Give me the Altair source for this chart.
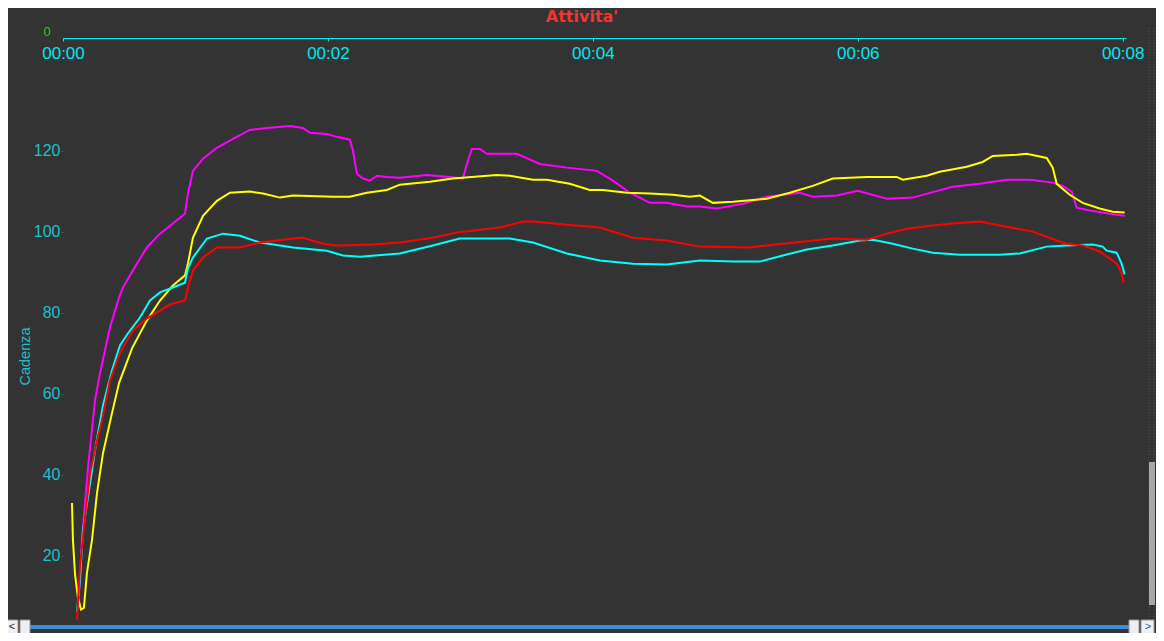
import altair as alt
import pandas as pd

# ---- data (minutes, cadence) ----
t_magenta = [0.12, 0.143, 0.189, 0.242, 0.279, 0.355, 0.423, 0.453, 0.558, 0.634, 0.732, 0.830, 0.921, 0.943, 0.981,
             1.057, 1.162, 1.283, 1.411, 1.540, 1.713, 1.811, 1.864, 1.992, 2.068, 2.166, 2.189, 2.219, 2.264, 2.317,
             2.370, 2.445, 2.543, 2.747, 2.974, 3.019, 3.049, 3.087, 3.147, 3.200, 3.426, 3.600, 3.804, 4.030, 4.151,
             4.279, 4.430, 4.558, 4.709, 4.808, 4.936, 5.132, 5.313, 5.562, 5.660, 5.842, 6.000, 6.219, 6.415, 6.717,
             6.921, 7.125, 7.298, 7.472, 7.547, 7.615, 7.653, 7.751, 7.902, 8.015]
v_magenta = [10, 23.9, 41.9, 58.4, 65.0, 76.4, 83.7, 86.2, 92.1, 96.1, 99.5, 102.0, 104.4, 109.4, 115.0,
             118.0, 120.7, 122.9, 125.1, 125.6, 126.1, 125.6, 124.4, 124.1, 123.4, 122.7, 120.0, 114.3, 113.1, 112.6,
             113.8, 113.5, 113.3, 114.0, 113.3, 113.1, 116.7, 120.4, 120.4, 119.2, 119.2, 116.7, 115.8, 115.0, 112.6,
             109.6, 107.1, 107.1, 106.2, 106.2, 105.7, 106.9, 108.6, 109.6, 108.6, 108.9, 110.1, 108.1, 108.4, 111.1,
             111.8, 112.8, 112.8, 112.1, 111.3, 109.9, 105.9, 105.2, 104.4, 103.9]

t_yellow = [0.068, 0.075, 0.091, 0.113, 0.136, 0.158, 0.181, 0.219, 0.257, 0.302, 0.370, 0.423, 0.521, 0.634, 0.732,
            0.830, 0.921, 0.943, 0.981, 1.057, 1.162, 1.260, 1.411, 1.509, 1.638, 1.736, 2.038, 2.166, 2.294, 2.445,
            2.543, 2.770, 2.943, 3.275, 3.374, 3.547, 3.653, 3.826, 3.977, 4.075, 4.257, 4.430, 4.604, 4.732, 4.808,
            4.906, 5.057, 5.313, 5.487, 5.660, 5.811, 6.068, 6.294, 6.340, 6.521, 6.619, 6.823, 6.943, 7.019, 7.200,
            7.275, 7.426, 7.472, 7.502, 7.600, 7.698, 7.826, 7.925, 8.015]
v_yellow = [33.0, 23.9, 15.3, 9.6, 6.7, 7.1, 15.8, 23.9, 35.5, 45.3, 55.2, 62.6, 71.2, 78.1, 83.0,
            86.7, 89.2, 92.1, 98.5, 103.9, 107.6, 109.6, 109.9, 109.4, 108.4, 108.9, 108.6, 108.6, 109.6, 110.3,
            111.6, 112.3, 113.1, 114.0, 113.8, 112.8, 112.8, 111.8, 110.3, 110.3, 109.6, 109.4, 109.1, 108.6, 108.9,
            107.1, 107.4, 108.1, 109.6, 111.3, 113.1, 113.5, 113.5, 112.8, 113.8, 114.8, 116.0, 117.2, 118.7, 119.0,
            119.2, 118.2, 115.8, 111.8, 109.1, 107.1, 105.7, 104.9, 104.7]

t_cyan = [0.106, 0.128, 0.151, 0.189, 0.242, 0.302, 0.370, 0.430, 0.491, 0.581, 0.657, 0.732, 0.830, 0.921, 0.943,
          0.981, 1.087, 1.208, 1.336, 1.487, 1.736, 1.992, 2.113, 2.242, 2.543, 2.792, 2.996, 3.374, 3.547, 3.804,
          4.053, 4.302, 4.558, 4.808, 5.057, 5.260, 5.434, 5.615, 5.811, 6.015, 6.113, 6.264, 6.415, 6.566, 6.770,
          7.072, 7.223, 7.426, 7.577, 7.774, 7.849, 7.879, 7.955, 7.992, 8.015]
v_cyan = [6.2, 14.0, 26.4, 34.5, 46.1, 57.1, 65.8, 71.9, 74.9, 78.8, 83.0, 85.0, 86.2, 87.4, 90.9,
          93.6, 98.3, 99.5, 99.0, 97.3, 96.1, 95.3, 94.1, 93.8, 94.6, 96.6, 98.3, 98.3, 97.3, 94.6,
          92.9, 92.1, 91.9, 92.9, 92.6, 92.6, 94.1, 95.6, 96.6, 97.8, 98.0, 97.0, 95.8, 94.8, 94.3,
          94.3, 94.6, 96.3, 96.6, 96.8, 96.3, 95.3, 94.8, 92.1, 89.4]

t_red = [0.106, 0.128, 0.166, 0.204, 0.257, 0.294, 0.355, 0.423, 0.453, 0.528, 0.634, 0.732, 0.808, 0.921, 0.943,
         0.981, 1.057, 1.162, 1.336, 1.487, 1.736, 1.811, 1.962, 2.068, 2.340, 2.543, 2.792, 2.974, 3.298, 3.472,
         3.547, 3.804, 4.053, 4.302, 4.558, 4.808, 5.185, 5.434, 5.811, 6.068, 6.219, 6.370, 6.566, 6.717, 6.921,
         7.125, 7.321, 7.502, 7.577, 7.698, 7.826, 7.955, 7.992, 8.008]
v_red = [4.2, 17.2, 29.6, 40.4, 48.5, 53.4, 63.3, 69.5, 71.4, 75.6, 78.6, 80.5, 82.0, 83.0, 86.2,
         90.4, 93.6, 96.1, 96.1, 97.3, 98.3, 98.5, 97.0, 96.6, 96.8, 97.3, 98.5, 99.8, 101.0, 102.5,
         102.5, 101.7, 101.0, 98.5, 97.8, 96.3, 96.1, 97.0, 98.3, 98.0, 99.5, 100.7, 101.5, 102.0, 102.5,
         101.2, 100.0, 97.8, 97.0, 96.6, 95.1, 92.1, 89.7, 87.4]

series_names = ["magenta", "yellow", "cyan", "red"]
series_colors = ["#FF00FF", "#FFFF00", "#00FFFF", "#FF0000"]
x_ticks = [0, 2, 4, 6, 8]
y_ticks = [20, 40, 60, 80, 100, 120]
title_text = "Attivita'"
y_title = "Cadenza"

frames = []
for name, ts, vs in [("magenta", t_magenta, v_magenta), ("yellow", t_yellow, v_yellow),
                     ("cyan", t_cyan, v_cyan), ("red", t_red, v_red)]:
    frames.append(pd.DataFrame({"t": ts, "v": vs, "series": name}))
df = pd.concat(frames, ignore_index=True)

W, H = 1063, 589

lines = alt.Chart(df).mark_line(strokeWidth=2, clip=False).encode(
    x=alt.X("t:Q",
            scale=alt.Scale(domain=[0, 8.025], nice=False, zero=False),
            axis=alt.Axis(orient="bottom", offset=-H, values=x_ticks,
                          labelExpr="'00:0' + datum.value",
                          domainColor="#00F0F0", domainWidth=1.2,
                          tickColor="#00F0F0", tickSize=3,
                          labelColor="#00E6F0", labelFont="Liberation Sans",
                          labelFontSize=17, labelPadding=4, labelFlush=False,
                          grid=False, title=None)),
    y=alt.Y("v:Q",
            scale=alt.Scale(domain=[2.4, 147.8], nice=False, zero=False),
            axis=alt.Axis(values=y_ticks, domain=False, grid=False,
                          tickColor="#1f7a3c", tickSize=2,
                          labelColor="#1EC0C8", labelFont="Liberation Sans",
                          labelFontSize=16, labelPadding=1,
                          title=y_title, titleColor="#1EC0C8",
                          titleFont="Liberation Sans", titleFontSize=14.5,
                          titleFontWeight="normal", titleAngle=270,
                          titleX=-34, titleY=318, titleAlign="center",
                          titleBaseline="alphabetic")),
    color=alt.Color("series:N", scale=alt.Scale(domain=series_names, range=series_colors), legend=None),
    detail="series:N",
)

one = pd.DataFrame({"a": [0]})
base = alt.Chart(one)

title = base.mark_text(text=title_text, font="DejaVu Sans", fontWeight="bold", fontSize=16,
                       color="#F03434", align="center", baseline="alphabetic").encode(
    x=alt.value(519), y=alt.value(-16))
zero_lbl = base.mark_text(text="0", font="Liberation Sans", fontSize=13, color="#22CC22",
                          align="center", baseline="alphabetic").encode(
    x=alt.value(-16), y=alt.value(-2))

# scrollbar decoration
track = base.mark_rect(color="#3A8EE0").encode(
    x=alt.value(-43), x2=alt.value(1066), y=alt.value(587), y2=alt.value(591))
btn_l = base.mark_rect(fill="#F0F0F0", stroke="#9A9A9A", strokeWidth=1).encode(
    x=alt.value(-58), x2=alt.value(-45), y=alt.value(582), y2=alt.value(596))
btn_r = base.mark_rect(fill="#F0F0F0", stroke="#9A9A9A", strokeWidth=1).encode(
    x=alt.value(1078), x2=alt.value(1091), y=alt.value(582), y2=alt.value(596))
thumb_l = base.mark_rect(fill="#EEEEEE", stroke="#9A9A9A", strokeWidth=1).encode(
    x=alt.value(-43), x2=alt.value(-33), y=alt.value(582), y2=alt.value(596))
thumb_r = base.mark_rect(fill="#EEEEEE", stroke="#9A9A9A", strokeWidth=1).encode(
    x=alt.value(1066), x2=alt.value(1076), y=alt.value(582), y2=alt.value(596))
txt_l = base.mark_text(text="<", fontSize=11, color="#222222", align="center", baseline="middle").encode(
    x=alt.value(-51), y=alt.value(589))
txt_r = base.mark_text(text=">", fontSize=11, color="#1a5fb4", align="center", baseline="middle").encode(
    x=alt.value(1085), y=alt.value(589))
vbar = base.mark_rect(color="#A8A8A8").encode(
    x=alt.value(1086), x2=alt.value(1092), y=alt.value(424), y2=alt.value(567))
dot1 = base.mark_rule(color="#555555", strokeDash=[1, 2]).encode(
    x=alt.value(1086), y=alt.value(-10), y2=alt.value(595))
dot2 = base.mark_rule(color="#555555", strokeDash=[1, 2]).encode(
    x=alt.value(1091), y=alt.value(-10), y2=alt.value(595))

chart = alt.layer(
    dot1, dot2, vbar, lines, track, thumb_l, thumb_r, btn_l, btn_r, txt_l, txt_r, title, zero_lbl
).properties(
    width=W, height=H,
    autosize=alt.AutoSizeParams(type="none"),
    padding={"left": 55, "top": 30, "right": 30, "bottom": 6},
    background="#333333",
).configure_view(stroke=None)

chart.save("out.html", embed_options={"renderer": "svg", "actions": False})
